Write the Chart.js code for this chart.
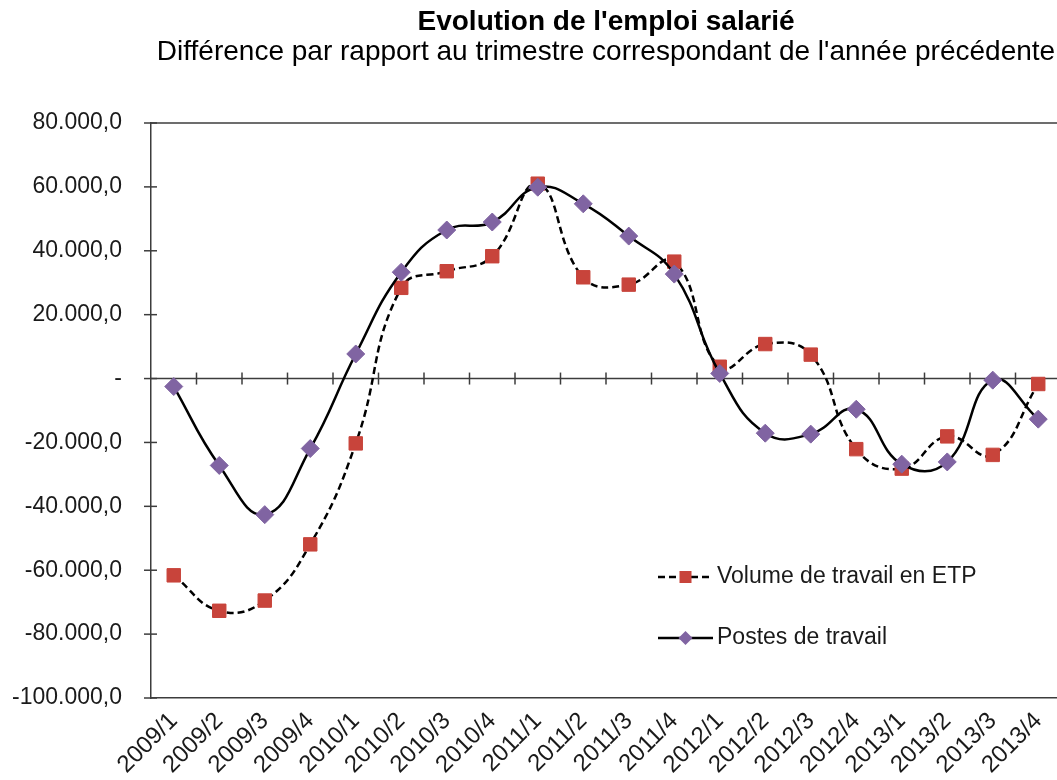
<!DOCTYPE html>
<html>
<head>
<meta charset="utf-8">
<script src="https://cdn.jsdelivr.net/npm/chart.js@4/dist/chart.umd.min.js"></script>
<style>
  html, body { margin: 0; padding: 0; background: #fff; overflow: hidden; width: 1057px; height: 780px; }
  #wrap { width: 1080px; height: 780px; }
</style>
</head>
<body>
<div id="wrap"><canvas id="c" width="1080" height="780"></canvas></div>
<script>
const titleText = "Evolution de l'emploi salarié";
const subtitleText = "Différence par rapport au trimestre correspondant de l'année précédente";
const categories = ['2009/1','2009/2','2009/3','2009/4','2010/1','2010/2','2010/3','2010/4',
  '2011/1','2011/2','2011/3','2011/4','2012/1','2012/2','2012/3','2012/4',
  '2013/1','2013/2','2013/3','2013/4'];
const etpLabel = 'Volume de travail en ETP';
const etpValues = [-61600, -72700, -69500, -51900, -20300, 28400, 33600, 38300,
  61000, 31700, 29400, 36600, 3700, 10800, 7500, -22100,
  -28200, -18100, -23900, -1700];
const postesLabel = 'Postes de travail';
const postesValues = [-2500, -27200, -42600, -21900, 7700, 33300, 46500, 49000,
  59900, 54700, 44600, 32700, 1600, -17100, -17400, -9600,
  -26800, -26100, -500, -12700];
const yMin = -100000, yMax = 80000, yStep = 20000;

const FONT = '"Liberation Sans", Arial, sans-serif';
const AXIS = '#3c3c3c';

function fmt(v) {
  if (v === 0) return '-';
  const neg = v < 0;
  const s = Math.abs(v).toFixed(0).replace(/\B(?=(\d{3})+(?!\d))/g, '.');
  return (neg ? '-' : '') + s + ',0';
}

const axesPlugin = {
  id: 'axesPlugin',
  beforeDatasetsDraw(chart) {
    const {ctx, chartArea: a, scales: {x, y}} = chart;
    ctx.save();
    ctx.strokeStyle = AXIS;
    ctx.lineWidth = 1.5;
    ctx.beginPath();
    ctx.moveTo(a.left, a.top); ctx.lineTo(a.right + 30, a.top);
    ctx.stroke();
    const y0 = y.getPixelForValue(0);
    ctx.beginPath();
    ctx.moveTo(a.left, y0); ctx.lineTo(a.right + 30, y0);
    ctx.stroke();
    const n = categories.length;
    for (let i = 0; i < n; i++) {
      const xx = i + 1 < n
        ? (x.getPixelForValue(i) + x.getPixelForValue(i + 1)) / 2
        : x.getPixelForValue(i) + (x.getPixelForValue(i) - x.getPixelForValue(i - 1)) / 2;
      ctx.beginPath();
      ctx.moveTo(xx, y0 - 6); ctx.lineTo(xx, y0 + 6);
      ctx.stroke();
    }
    for (let v = yMin; v <= yMax; v += yStep) {
      const yy = y.getPixelForValue(v);
      ctx.beginPath();
      ctx.moveTo(a.left - 7, yy); ctx.lineTo(a.left + 6, yy);
      ctx.stroke();
    }
    ctx.restore();
  }
};

const legendPlugin = {
  id: 'customLegend',
  afterDraw(chart) {
    const {ctx} = chart;
    const items = chart.data.datasets;
    const x0 = 658, rows = [577, 638];
    ctx.save();
    items.forEach((ds, i) => {
      const yy = rows[i];
      ctx.strokeStyle = ds.borderColor;
      ctx.lineWidth = ds.borderWidth;
      ctx.setLineDash(ds.borderDash || []);
      ctx.beginPath();
      ctx.moveTo(x0, yy); ctx.lineTo(x0 + 55, yy);
      ctx.stroke();
      ctx.setLineDash([]);
      const cx = x0 + 27.5;
      ctx.fillStyle = ds.pointBackgroundColor;
      if (ds.pointStyle === 'rect') {
        ctx.fillRect(cx - 6, yy - 6, 12, 12);
      } else {
        ctx.beginPath();
        ctx.moveTo(cx, yy - 7); ctx.lineTo(cx + 7, yy); ctx.lineTo(cx, yy + 7); ctx.lineTo(cx - 7, yy);
        ctx.closePath(); ctx.fill();
      }
      ctx.fillStyle = '#1a1a1a';
      ctx.font = '23px ' + FONT;
      ctx.textBaseline = 'middle';
      ctx.textAlign = 'left';
      ctx.fillText(ds.label, x0 + 59, yy);
    });
    ctx.restore();
  }
};

new Chart(document.getElementById('c'), {
  type: 'line',
  data: {
    labels: categories,
    datasets: [
      {
        label: etpLabel,
        data: etpValues,
        borderColor: '#000',
        borderWidth: 2.5,
        borderDash: [7, 4],
        tension: 0.45,
        pointStyle: 'rect',
        pointRadius: 9.5,
        pointBackgroundColor: '#C8443B',
        pointBorderColor: '#C8443B',
        pointBorderWidth: 1,
        order: 2
      },
      {
        label: postesLabel,
        data: postesValues,
        borderColor: '#000',
        borderWidth: 2.5,
        tension: 0.45,
        pointStyle: 'rectRot',
        pointRadius: 9,
        pointBackgroundColor: '#8064A2',
        pointBorderColor: '#8064A2',
        pointBorderWidth: 1,
        order: 1
      }
    ]
  },
  options: {
    responsive: false,
    animation: false,
    layout: { padding: { left: 0, right: 19, top: 0, bottom: 0 } },
    plugins: {
      legend: { display: false },
      tooltip: { enabled: false },
      title: {
        display: true, fullSize: false, text: titleText, color: '#000',
        font: { family: FONT, size: 28, weight: 'bold', lineHeight: 1.0 },
        padding: { top: 8, bottom: 0 }
      },
      subtitle: {
        display: true, fullSize: false, text: subtitleText, color: '#000',
        font: { family: FONT, size: 28, lineHeight: 1.0 },
        padding: { top: 2, bottom: 57 }
      }
    },
    scales: {
      x: {
        type: 'category',
        offset: true,
        grid: { display: false, drawTicks: false },
        border: { display: true, color: AXIS, width: 1.5 },
        ticks: {
          color: '#1a1a1a', font: { family: FONT, size: 24 },
          minRotation: 45, maxRotation: 45, padding: 9, autoSkip: false
        },
        afterFit(scale) { scale.height = 82; }
      },
      y: {
        min: yMin, max: yMax,
        grid: { display: false, drawTicks: false },
        border: { display: true, color: AXIS, width: 1.5 },
        ticks: {
          stepSize: yStep, color: '#1a1a1a', font: { family: FONT, size: 23 },
          padding: 29, callback: (v) => fmt(v)
        },
        afterFit(scale) { scale.width = 151; }
      }
    }
  },
  plugins: [axesPlugin, legendPlugin]
});
</script>
</body>
</html>
